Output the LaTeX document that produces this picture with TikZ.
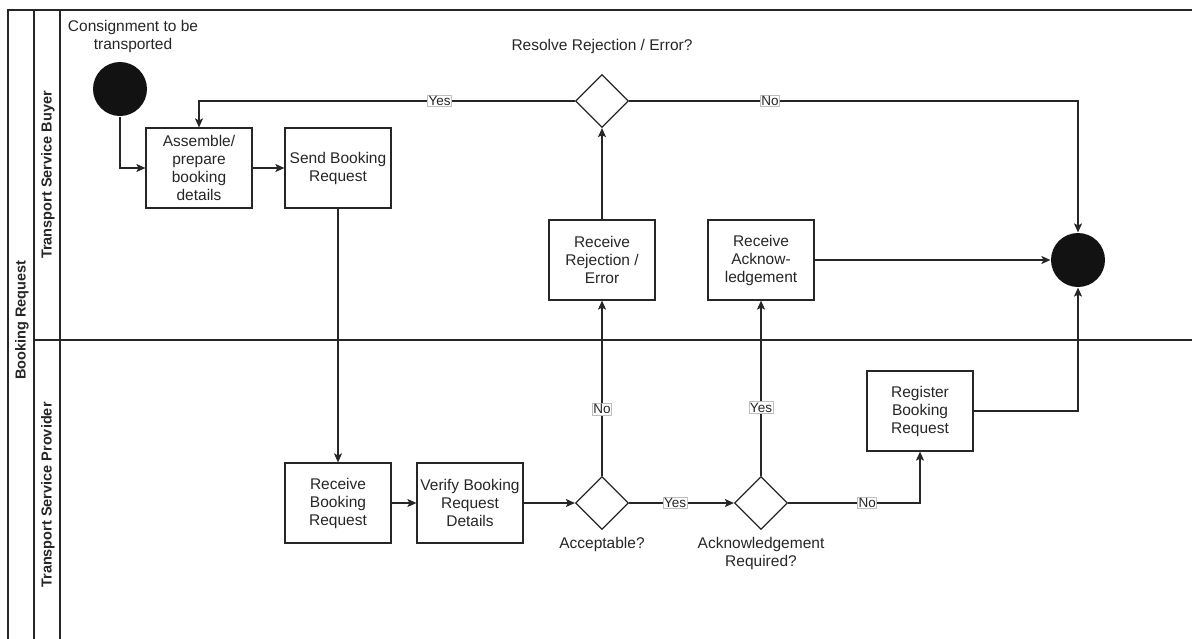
\documentclass[tikz,border=0pt]{standalone}
\usepackage{fontspec}
\setmainfont{Liberation Sans}
\usetikzlibrary{arrows.meta,shapes.geometric}

\tikzset{
	task/.style={draw, rectangle, minimum width=106pt, minimum height=80pt, inner sep=0pt, align=center, font=\fontsize{15.5}{18}\selectfont},
	gate/.style={draw, diamond, minimum width=53pt, minimum height=53pt, inner sep=0pt},
	event/.style={circle, fill=black!93, minimum size=54pt, inner sep=0pt},
	caption/.style={align=center, inner sep=0pt, font=\fontsize{15.5}{18}\selectfont},
	lanetitle/.style={rotate=90, inner sep=0pt, font=\fontsize{14.5}{17}\selectfont\bfseries},
	edgelbl/.style={fill=white, draw=black!25, line width=0.8pt, inner sep=1pt, font=\fontsize{13.5}{15}\selectfont}
}

\begin{document}
\begin{tikzpicture}[x=1pt, y=-1pt, line width=1.2pt, color=black!85, >={Stealth[length=9pt,width=8pt,inset=2pt]}]
			\useasboundingbox (0,0) rectangle (1192,638);
			%\draw[step=50,gray,very thin] (0,0) grid (1192,638);
			\draw (1192,10) -- (8,10) -- (8,640);
			\draw (34,10) -- (34,640);
			\draw (60,10) -- (60,640);
			\draw (34,340) -- (1192,340);
			
			\node[lanetitle] (pooltitle) at (22,320) {Booking Request};
			\node[lanetitle] (buyertitle) at (48,175) {Transport Service Buyer};
			\node[lanetitle] (providertitle) at (48,495) {Transport Service Provider};
			
			\node[event] (start) at (120,89) {};
			\node[caption] (consignlbl) at (133,36) {Consignment to be\\transported};
			
			\node[task] (assemble) at (199,168) {Assemble/\\prepare\\booking\\details};
			\node[task] (send) at (338,168) {Send Booking\\Request};
			
			\node[gate] (resolve) at (602,101) {};
			\node[caption] (resolvelbl) at (602,46) {Resolve Rejection / Error?};
			
			\node[task] (recvrej) at (602,260) {Receive\\Rejection /\\Error};
			\node[task] (recvack) at (761,260) {Receive\\Acknow-\\ledgement};
			\node[event] (end) at (1078,260) {};
			
			\node[task] (recvbook) at (338,503) {Receive\\Booking\\Request};
			\node[task] (verify) at (470,503) {Verify Booking\\Request\\Details};
			
			\node[gate] (accept) at (602,503) {};
			\node[caption] (acceptlbl) at (602,544) {Acceptable?};
			\node[gate] (ackreq) at (761,503) {};
			\node[caption] (ackreqlbl) at (761,553) {Acknowledgement\\Required?};
			
			\node[task] (register) at (920,411) {Register\\Booking\\Request};

			\draw[->] (start) |- (assemble);
			\draw[->] (assemble) -- (send);
			\draw[->] (send) -- (recvbook);
			\draw[->] (recvbook) -- (verify);
			\draw[->] (verify) -- (accept);
			\draw[->] (accept) -- node[edgelbl, pos=0.44] {Yes} (ackreq);
			\draw[->] (accept) -- node[edgelbl, pos=0.38] {No} (recvrej);
			\draw[->] (ackreq) -- node[edgelbl, pos=0.39] {Yes} (recvack);
			\draw[->] (ackreq) -| node[edgelbl, pos=0.3] {No} (register);
			\draw[->] (register) -| (end);
			\draw[->] (recvack) -- (end);
			\draw[->] (recvrej) -- (resolve);
			\draw[->] (resolve) -| node[edgelbl, pos=0.18] {Yes} (assemble);
			\draw[->] (resolve) -| node[edgelbl, pos=0.157] {No} (end);
		\end{tikzpicture}
\end{document}
